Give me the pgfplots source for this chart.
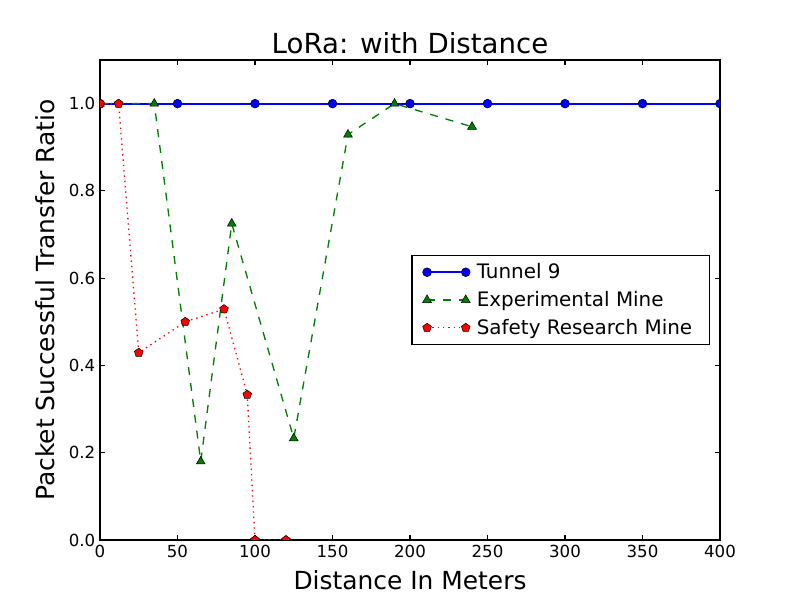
\documentclass[border=0pt]{standalone}
\usepackage{pgfplots}
\pgfplotsset{compat=1.18}
\usepackage{fontspec}
\setmainfont{DejaVu Sans}
\definecolor{mplgreen}{rgb}{0,0.5,0}
\definecolor{mplblue}{rgb}{0,0,1}
\definecolor{mplred}{rgb}{1,0,0}
\begin{document}
\begin{tikzpicture}[x=1bp,y=1bp]
\useasboundingbox (0,0) rectangle (600,450);
\begin{axis}[
  at={(75bp,45bp)}, anchor=south west,
  scale only axis, width=465bp, height=360bp,
  xmin=0, xmax=400, ymin=0, ymax=1.1,
  xtick={0,50,...,400}, ytick={0,0.2,0.4,0.6,0.8,1.0},
  yticklabel style={/pgf/number format/.cd,fixed,fixed zerofill,precision=1},
  /pgf/number format/assume math mode=true,
  tick align=inside, tick pos=both,
  major tick length=4bp,
  tick style={black, line width=0.8bp},
  axis line style={line width=0.8bp},
  ticklabel style={font=\fontsize{12.5}{15}\selectfont},
  title={LoRa: with Distance},
  title style={font=\fontsize{20.8}{25}\selectfont, yshift=-5bp},
  xlabel={Distance In Meters},
  ylabel={Packet Successful Transfer Ratio},
  label style={font=\fontsize{18.75}{22}\selectfont},
  xlabel style={yshift=-3bp},
  ylabel style={yshift=4bp},
  clip marker paths=true,
  legend style={at={(0.984,0.5)}, anchor=east, font=\fontsize{15}{18}\selectfont,
    draw=black, line width=0.8bp, inner xsep=8bp, inner ysep=4bp, row sep=4bp,
    cells={anchor=west}, nodes={inner xsep=5bp}},
  legend image code/.code={%
    \draw[#1,mark=none] (0bp,0bp) -- (29bp,0bp);
    \draw[#1,only marks] plot coordinates {(0bp,0bp) (29bp,0bp)};
  },
]
\addplot[draw=mplblue, line width=1.4bp, mark=*, mark size=3.3bp, mark options={fill=mplblue, draw=black, line width=0.4bp, solid}]
coordinates {(0,1.0)(50,1.0)(100,1.0)(150,1.0)(200,1.0)(250,1.0)(300,1.0)(350,1.0)(400,1.0)};
\addlegendentry{Tunnel 9}
\addplot[color=mplgreen, line width=1bp, dash pattern=on 6bp off 6bp, mark=triangle*, mark size=3.8bp, mark options={fill=mplgreen, draw=black, line width=0.4bp, solid}]
coordinates {(0,1)(35,1)(65,0.18)(85,0.725)(125,0.233)(160,0.929)(190,1.0)(240,0.947)};
\addlegendentry{Experimental Mine}
\addplot[color=mplred, line width=1bp, dash pattern=on 1bp off 3bp, mark=pentagon*, mark size=3.4bp, mark options={fill=mplred, draw=black, line width=0.4bp, solid}]
coordinates {(0,1)(12,1)(25,0.429)(55,0.5)(80,0.529)(95,0.333)(100,0)(120,0)};
\addlegendentry{Safety Research Mine}
\end{axis}
\end{tikzpicture}
\end{document}
